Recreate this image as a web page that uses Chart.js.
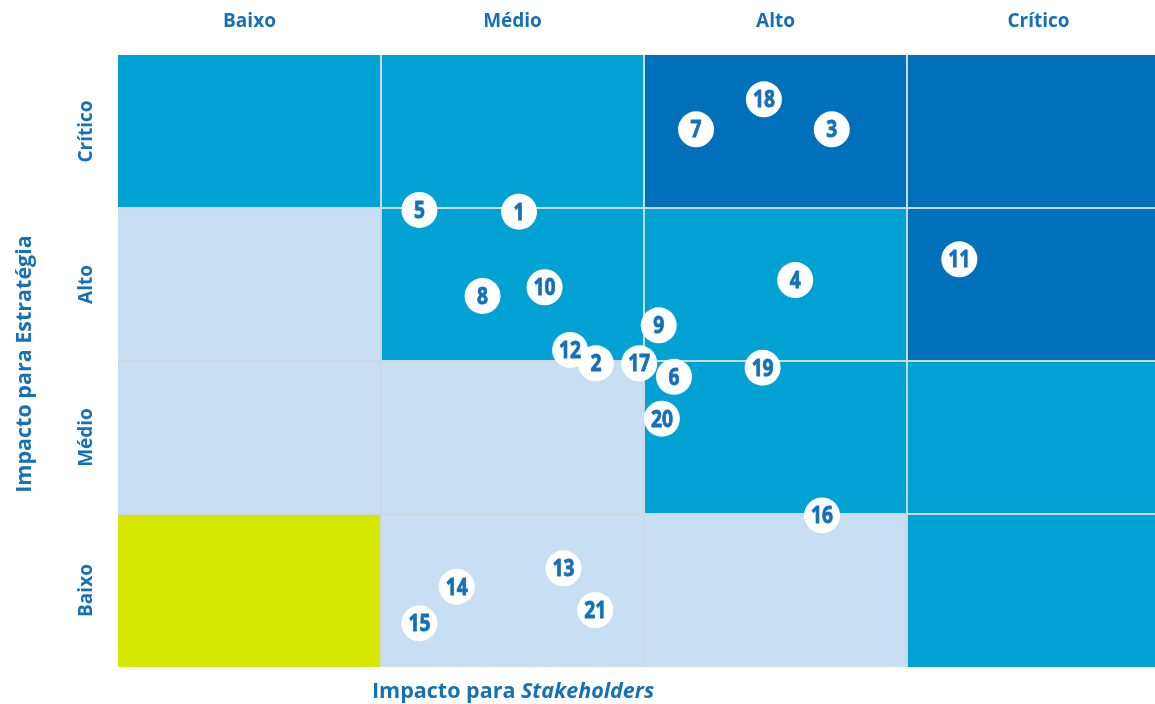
<!DOCTYPE html>
<html lang="pt">
<head>
<meta charset="utf-8">
<title>Matriz de materialidade</title>
<script src="https://cdn.jsdelivr.net/npm/chart.js@4.4.1/dist/chart.umd.min.js"></script>
<style>
  html, body { margin: 0; padding: 0; background: #ffffff; overflow: hidden; }
  #wrap { width: 1155px; height: 704px; }
</style>
</head>
<body>
<div id="wrap"><canvas id="matrix" width="1155" height="704"></canvas></div>
<script>
/* ---------- Data ---------- */
// column labels (Impacto para Stakeholders), left to right
const colLabels = ['Baixo', 'Médio', 'Alto', 'Crítico'];
// row labels (Impacto para Estratégia), bottom to top
const rowLabels = ['Baixo', 'Médio', 'Alto', 'Crítico'];

// level of each cell, rows bottom -> top, columns left -> right
// 0 = yellow, 1 = light, 2 = medium, 3 = dark
const cellLevels = [
  [0, 1, 1, 2],
  [1, 1, 2, 2],
  [1, 2, 2, 3],
  [2, 2, 3, 3]
];

// topics (drawing order matters where circles overlap)
const topicIds = [1, 12, 2, 3, 4, 5, 7, 8, 9, 10, 11, 13, 14, 15, 16, 17, 6, 18, 19, 20, 21];
const stakeholderImpact = [1.525, 1.719, 1.817, 2.714, 2.575, 1.146, 2.198, 1.386, 2.056, 1.622, 3.199, 1.694, 1.288, 1.146, 2.677, 1.982, 2.114, 2.456, 2.451, 2.068, 1.815];
const strategyImpact    = [2.976, 2.072, 1.985, 3.514, 2.529, 2.987, 3.514, 2.425, 2.233, 2.482, 2.665, 0.645, 0.525, 0.285, 0.991, 1.985, 1.897, 3.710, 1.956, 1.623, 0.372];

/* ---------- Style ---------- */
const levelColors = ['#d5e600', '#c8dff3', '#00a2d4', '#0070ba'];
const gridColor = '#cbd8e1';
const textBlue = '#1570b8';

/* ---------- Plugins ---------- */
const matrixCells = {
  id: 'matrixCells',
  beforeDatasetsDraw(chart) {
    const { ctx, chartArea, scales: { x, y } } = chart;
    ctx.save();
    ctx.beginPath();
    ctx.rect(chartArea.left, chartArea.top, chartArea.right - chartArea.left, chartArea.bottom - chartArea.top);
    ctx.clip();

    cellLevels.forEach((row, r) => {
      row.forEach((lvl, c) => {
        const x0 = x.getPixelForValue(c), x1 = x.getPixelForValue(c + 1);
        const y0 = y.getPixelForValue(r + 1), y1 = y.getPixelForValue(r);
        ctx.fillStyle = levelColors[lvl];
        ctx.fillRect(x0, y0, x1 - x0, y1 - y0);
      });
    });

    // cell borders
    ctx.strokeStyle = gridColor;
    ctx.lineWidth = 2;
    for (let i = 1; i < colLabels.length; i++) {
      const px = x.getPixelForValue(i);
      ctx.beginPath();
      ctx.moveTo(px, chartArea.top);
      ctx.lineTo(px, chartArea.bottom);
      ctx.stroke();
    }
    for (let i = 1; i < rowLabels.length; i++) {
      const py = y.getPixelForValue(i);
      ctx.beginPath();
      ctx.moveTo(chartArea.left, py);
      ctx.lineTo(chartArea.right, py);
      ctx.stroke();
    }
    ctx.restore();
  }
};

const matrixLabels = {
  id: 'matrixLabels',
  afterDatasetsDraw(chart) {
    const { ctx, chartArea, scales: { x, y } } = chart;
    ctx.save();

    // numbers inside circles (narrow, tall, heavy digits)
    const meta = chart.getDatasetMeta(0);
    ctx.fillStyle = textBlue;
    ctx.strokeStyle = textBlue;
    ctx.lineWidth = 0.9;
    ctx.font = 'bold 24px "Open Sans", sans-serif';
    ctx.textAlign = 'center';
    ctx.textBaseline = 'middle';
    meta.data.forEach((pt, i) => {
      ctx.save();
      ctx.translate(pt.x, pt.y + 1);
      ctx.scale(0.8, 1);
      ctx.fillText(String(topicIds[i]), 0, 0);
      ctx.strokeText(String(topicIds[i]), 0, 0);
      ctx.restore();
    });

    // column labels on top
    ctx.font = 'bold 19px "Open Sans", sans-serif';
    colLabels.forEach((lab, i) => {
      ctx.fillText(lab, x.getPixelForValue(i + 0.5), 22);
    });

    // row labels, rotated
    rowLabels.forEach((lab, i) => {
      ctx.save();
      ctx.translate(87, y.getPixelForValue(i + 0.5));
      ctx.rotate(-Math.PI / 2);
      ctx.fillText(lab, 0, 0);
      ctx.restore();
    });

    // y title
    ctx.font = 'bold 21.5px "Open Sans", sans-serif';
    ctx.save();
    ctx.translate(25, (chartArea.top + chartArea.bottom) / 2 + 3);
    ctx.rotate(-Math.PI / 2);
    ctx.fillText('Impacto para Estratégia', 0, 0);
    ctx.restore();

    // x title with italic part
    const partA = 'Impacto para ';
    const partB = 'Stakeholders';
    ctx.textAlign = 'left';
    ctx.font = 'bold 21.5px "Open Sans", sans-serif';
    const wA = ctx.measureText(partA).width;
    ctx.font = 'italic bold 21.5px "Open Sans", sans-serif';
    const wB = ctx.measureText(partB).width;
    const startX = 513 - (wA + wB) / 2;
    ctx.font = 'bold 21.5px "Open Sans", sans-serif';
    ctx.fillText(partA, startX, 692);
    ctx.font = 'italic bold 21.5px "Open Sans", sans-serif';
    ctx.fillText(partB, startX + wA, 692);

    ctx.restore();
  }
};

/* ---------- Chart ---------- */
const points = topicIds.map((id, i) => ({ x: stakeholderImpact[i], y: strategyImpact[i] }));

new Chart(document.getElementById('matrix'), {
  type: 'scatter',
  data: {
    datasets: [{
      data: points,
      pointRadius: 18,
      pointHoverRadius: 18,
      pointBackgroundColor: '#ffffff',
      pointBorderWidth: 0,
      pointBorderColor: '#ffffff'
    }]
  },
  options: {
    responsive: false,
    animation: false,
    devicePixelRatio: 1,
    layout: { autoPadding: false, padding: { top: 55, left: 118, right: 0, bottom: 37 } },
    scales: {
      x: { type: 'linear', min: 0, max: 3.943, display: false },
      y: { type: 'linear', min: 0, max: 4, display: false }
    },
    plugins: {
      legend: { display: false },
      tooltip: { enabled: false }
    }
  },
  plugins: [matrixCells, matrixLabels]
});
</script>
</body>
</html>
